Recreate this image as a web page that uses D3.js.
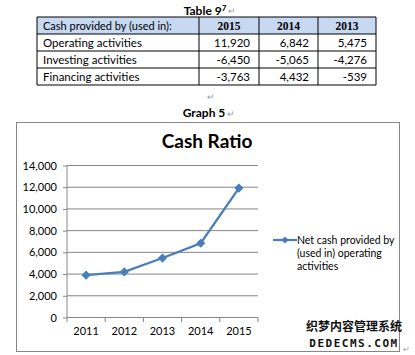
<!DOCTYPE html>
<html><head><meta charset="utf-8">
<script src="https://cdn.jsdelivr.net/npm/d3@7"></script>
<style>body{margin:0;background:#fff}svg{display:block}</style>
</head><body><svg id="c" width="415" height="355"></svg>
<script>
const tableHeader = ["Cash provided by (used in):", "2015", "2014", "2013"];
const rowLabels = ["Operating activities", "Investing activities", "Financing activities"];
const rowValues = [["11,920","6,842","5,475"],["-6,450","-5,065","-4,276"],["-3,763","4,432","-539"]];
const years = ["2011","2012","2013","2014","2015"];
const operatingCash = [3900, 4200, 5475, 6842, 11920];
const yTicks = [0, 2000, 4000, 6000, 8000, 10000, 12000, 14000];

const svg = d3.select("#c");
const font = "Lato, 'Open Sans', sans-serif";
const mark = "#9a9a9a";

// Table title
svg.append("text").attr("x",205).attr("y",15).attr("text-anchor","middle")
  .attr("font-family",font).attr("font-weight","bold").attr("font-size",12).attr("fill","#000")
  .text("Table 9").append("tspan").attr("font-size",8).attr("dy",-4).text("7");
svg.append("text").attr("x",228).attr("y",14).attr("font-size",9).attr("fill",mark).text("↵");

// Table
const colX = [37, 199, 259, 318, 376];
const rowY = [17, 34, 51, 68, 85];
svg.append("rect").attr("x",colX[0]).attr("y",rowY[0]).attr("width",colX[4]-colX[0]).attr("height",rowY[1]-rowY[0]).attr("fill","#c6d9f1");
rowY.forEach(y=>svg.append("line").attr("x1",colX[0]).attr("x2",colX[4]).attr("y1",y).attr("y2",y).attr("stroke","#000").attr("stroke-width",1));
colX.forEach(x=>svg.append("line").attr("x1",x).attr("x2",x).attr("y1",rowY[0]).attr("y2",rowY[4]).attr("stroke","#000").attr("stroke-width",1));
tableHeader.forEach((h,i)=>{
  const t = svg.append("text").attr("y",rowY[0]+12.5).attr("font-family",font).attr("font-size",11).attr("fill","#000").text(h);
  if(i===0) t.attr("x",colX[0]+6);
  else t.attr("x",(colX[i]+colX[i+1])/2).attr("text-anchor","middle").attr("font-weight","bold").attr("font-family","'Liberation Serif', serif").attr("font-size",11.5);
});
rowLabels.forEach((l,r)=>{
  svg.append("text").attr("x",colX[0]+6).attr("y",rowY[r+1]+12.5).attr("font-family",font).attr("font-size",11.5).attr("fill","#000").text(l);
  rowValues[r].forEach((v,c)=>{
    svg.append("text").attr("x",colX[c+2]-9).attr("y",rowY[r+1]+12.5).attr("text-anchor","end").attr("font-family",font).attr("font-size",11.5).attr("fill","#000").text(v);
  });
});
svg.append("text").attr("x",207).attr("y",100).attr("font-size",9).attr("fill",mark).text("↵");

// Graph title
svg.append("text").attr("x",204).attr("y",117).attr("text-anchor","middle")
  .attr("font-family",font).attr("font-weight","bold").attr("font-size",12).attr("fill","#000").text("Graph 5");
svg.append("text").attr("x",227).attr("y",117).attr("font-size",9).attr("fill",mark).text("↵");

// Chart frame
svg.append("rect").attr("x",16.5).attr("y",122.5).attr("width",383).attr("height",229).attr("fill","#fff").attr("stroke","#868686");

svg.append("text").attr("x",207).attr("y",148).attr("text-anchor","middle")
  .attr("font-family",font).attr("font-weight","bold").attr("font-size",19).attr("fill","#000").text("Cash Ratio");

// Scales
const x = d3.scaleBand().domain(years).range([67, 258]);
const y = d3.scaleLinear().domain([0, 14000]).range([317.5, 165.5]);

// gridlines
svg.append("g").selectAll("line").data(yTicks.filter(d=>d>0)).join("line")
  .attr("x1",67).attr("x2",258).attr("y1",d=>y(d)).attr("y2",d=>y(d)).attr("stroke","#868686");

// y axis
const ya = svg.append("g").attr("transform","translate(67,0)")
  .call(d3.axisLeft(y).tickValues(yTicks).tickFormat(d3.format(",")).tickSize(4).tickPadding(6));
ya.select(".domain").attr("stroke","#868686").attr("d","M0,165.5V317.5");
ya.selectAll(".tick line").attr("stroke","#868686");
ya.selectAll("text").attr("font-family",font).attr("font-size",11).attr("fill","#000");

// x axis
const xa = svg.append("g").attr("transform","translate(0,317.5)")
  .call(d3.axisBottom(x).tickSize(0).tickPadding(10));
xa.select(".domain").attr("stroke","#868686").attr("d","M67,0H258");
xa.selectAll("text").attr("font-family",font).attr("font-size",11).attr("fill","#000");
svg.append("g").selectAll("line").data(years.concat(["end"])).join("line")
  .attr("x1",(d,i)=>67+i*x.step()).attr("x2",(d,i)=>67+i*x.step())
  .attr("y1",317.5).attr("y2",322).attr("stroke","#868686");

// line
const cx = d=>x(d)+x.bandwidth()/2;
const data = years.map((yr,i)=>({yr, v:operatingCash[i]}));
svg.append("path").datum(data).attr("fill","none").attr("stroke","#4a7ebb").attr("stroke-width",2.25)
  .attr("d",d3.line().x(d=>cx(d.yr)).y(d=>y(d.v)));
svg.append("g").selectAll("path").data(data).join("path")
  .attr("transform",d=>`translate(${cx(d.yr)},${y(d.v)}) rotate(45)`)
  .attr("d",d3.symbol().type(d3.symbolSquare).size(30)).attr("fill","#4a7ebb").attr("stroke","#4a7ebb");

// legend
svg.append("line").attr("x1",273).attr("x2",297).attr("y1",240).attr("y2",240).attr("stroke","#4a7ebb").attr("stroke-width",2.25);
svg.append("path").attr("transform","translate(285,240) rotate(45)").attr("d",d3.symbol().type(d3.symbolSquare).size(26)).attr("fill","#4a7ebb");
["Net cash provided by","(used in) operating","activities"].forEach((t,i)=>
  svg.append("text").attr("x",297).attr("y",244+i*13).attr("font-family",font).attr("font-size",10.5).attr("fill","#000").text(t));

// watermark
svg.append("text").attr("x",354).attr("y",331).attr("text-anchor","middle")
  .attr("font-family","'Noto Sans CJK SC', sans-serif").attr("font-weight","bold").attr("font-size",12)
  .attr("fill","#111").text("织梦内容管理系统");
svg.append("text").attr("x",354).attr("y",347).attr("text-anchor","middle")
  .attr("font-family","'DejaVu Sans Mono', monospace").attr("font-weight","bold").attr("font-size",11).attr("letter-spacing",1.5)
  .attr("fill","#111").text("DEDECMS.COM");
svg.append("text").attr("x",403).attr("y",352).attr("font-size",8).attr("fill",mark).text("↵");
</script></body></html>
